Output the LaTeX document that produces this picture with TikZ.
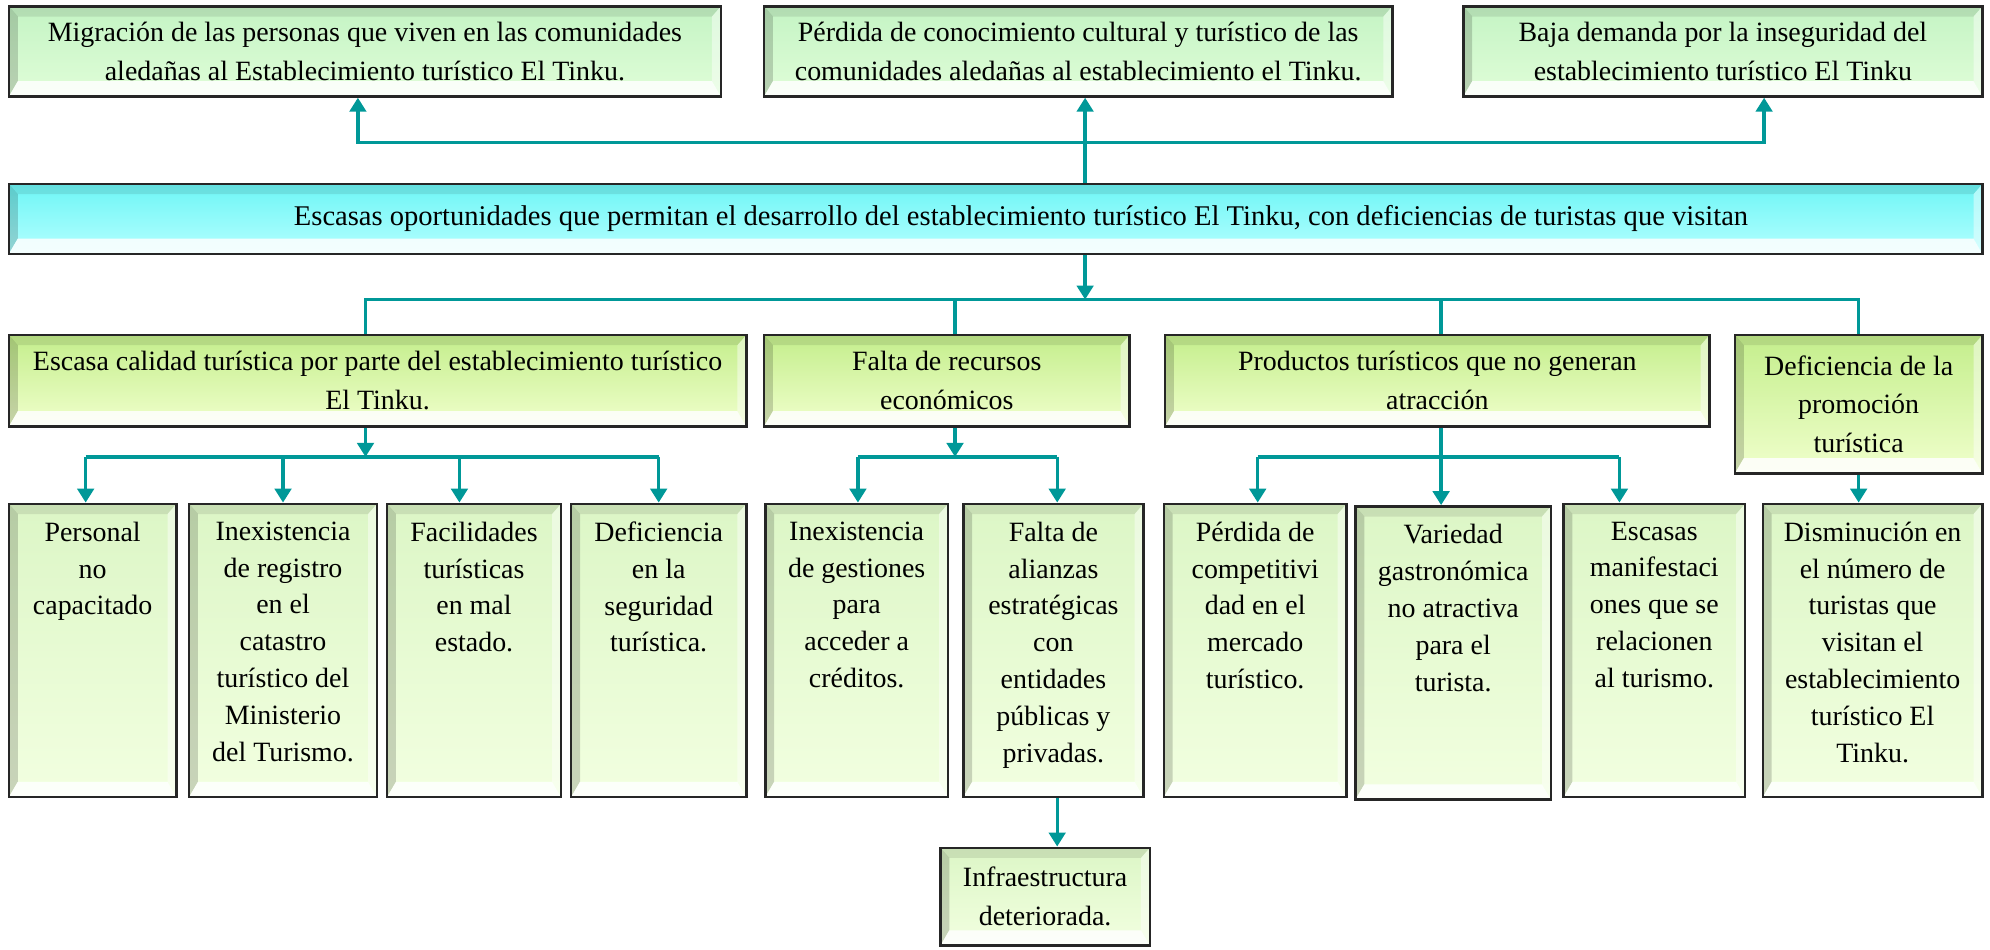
\documentclass[tikz,border=0pt]{standalone}
\usepackage{fontspec}
\setmainfont{Liberation Serif}
\usetikzlibrary{arrows.meta,calc}
\definecolor{tealc}{RGB}{0,152,152}
\definecolor{mintT}{RGB}{196,244,196}
\definecolor{mintB}{RGB}{224,253,216}
\definecolor{cyanT}{RGB}{110,246,246}
\definecolor{cyanB}{RGB}{180,255,255}
\definecolor{limeT}{RGB}{196,238,140}
\definecolor{limeM}{RGB}{216,251,158}
\definecolor{limeB}{RGB}{240,255,204}
\definecolor{paleT}{RGB}{220,246,198}
\definecolor{paleB}{RGB}{242,255,224}
\tikzset{
  bevel/.style={path picture={
    \coordinate (bSW) at (path picture bounding box.south west);
    \coordinate (bNE) at (path picture bounding box.north east);
    \coordinate (bNW) at (bSW|-bNE);
    \coordinate (bSE) at (bNE|-bSW);
    \coordinate (iSW) at ([shift={(7pt,12pt)}]bSW);
    \coordinate (iNE) at ([shift={(-7pt,-8pt)}]bNE);
    \coordinate (iNW) at (iSW|-iNE);
    \coordinate (iSE) at (iNE|-iSW);
    \fill[black,opacity=0.09] (bNW)--(bNE)--(iNE)--(iNW)--cycle;
    \fill[black,opacity=0.17] (bSW)--(bNW)--(iNW)--(iSW)--cycle;
    \fill[white,opacity=0.85] (bSW)--(bSE)--(iSE)--(iSW)--cycle;
    \fill[white,opacity=0.45] (bSE)--(bNE)--(iNE)--(iSE)--cycle;
  }},
  bx/.style={rectangle, draw=black!85, line width=2pt, inner sep=0pt, align=center,
    font=\fontsize{22}{30.5}\selectfont, bevel},
  mintbox/.style={bx, top color=mintT, bottom color=mintB},
  cyanbox/.style={bx, top color=cyanT, bottom color=cyanB},
  limebox/.style={bx, top color=limeT, middle color=limeM, bottom color=limeB},
  palebox/.style={bx, top color=paleT, bottom color=paleB},
  txt/.style={inner sep=0pt, align=center, font=\fontsize{22}{29}\selectfont},
  conn/.style={draw=tealc, line width=2.6pt},
  arr/.style={conn, -{Triangle[width=13pt,length=11pt]}},
}
\newcommand\cbox[7]{\node[#1, minimum width={#5-#3}, minimum height={#6-#4}] (#2) at ({(#3+#5)/2},{(#4+#6)/2}) {#7};}
\newcommand\tbox[6]{\node[palebox, minimum width={#4-#2}, minimum height={#5-#3}] (#1) at ({(#2+#4)/2},{(#3+#5)/2}) {};
  \node[txt, anchor=north] (#1t) at ([yshift=-15pt]#1.north) {#6};}
\begin{document}
\begin{tikzpicture}[x=1pt,y=-1pt]
\useasboundingbox (0,0) rectangle (1568,748);
% top effects
\cbox{mintbox}{T1}{7}{5}{568}{76}{Migración de las personas que viven en las comunidades\\aledañas al Establecimiento turístico El Tinku.}
\cbox{mintbox}{T2}{602}{5}{1097}{76}{Pérdida de conocimiento cultural y turístico de las\\comunidades aledañas al establecimiento el Tinku.}
\cbox{mintbox}{T3}{1153}{5}{1562}{76}{Baja demanda por la inseguridad del\\establecimiento turístico El Tinku}
% central problem
\cbox{cyanbox}{C}{7}{145}{1562}{200}{\fontsize{22.5}{30}\selectfont\hspace{40pt}Escasas oportunidades que permitan el desarrollo del establecimiento turístico El Tinku, con deficiencias de turistas que visitan}
% causes
\cbox{limebox}{A}{7}{264}{588}{336}{Escasa calidad turística por parte del establecimiento turístico\\El Tinku.}
\cbox{limebox}{B}{602}{264}{890}{336}{Falta de recursos\\económicos}
\cbox{limebox}{P}{918}{264}{1347}{336}{Productos turísticos que no generan\\atracción}
\cbox{limebox}{D}{1367}{264}{1562}{373}{Deficiencia de la\\promoción\\turística}
% sub-causes
\tbox{A1}{7}{397}{139}{628}{Personal\\no\\capacitado}
\tbox{A2}{149}{397}{297}{628}{Inexistencia\\de registro\\en el\\catastro\\turístico del\\Ministerio\\del Turismo.}
\tbox{A3}{305}{397}{442}{628}{Facilidades\\turísticas\\en mal\\estado.}
\tbox{A4}{450}{397}{588}{628}{Deficiencia\\en la\\seguridad\\turística.}
\tbox{B1}{603}{397}{747}{628}{Inexistencia\\de gestiones\\para\\acceder a\\créditos.}
\tbox{B2}{759}{397}{901}{628}{Falta de\\alianzas\\estratégicas\\con\\entidades\\públicas y\\privadas.}
\cbox{palebox}{B3}{741}{668}{906}{745}{\fontsize{22}{29}\selectfont Infraestructura\\deteriorada.}
\tbox{C1}{917}{397}{1061}{628}{Pérdida de\\competitivi\\dad en el\\mercado\\turístico.}
\tbox{C2}{1068}{399}{1222}{630}{Variedad\\gastronómica\\no atractiva\\para el\\turista.}
\tbox{C3}{1232}{397}{1375}{628}{Escasas\\manifestaci\\ones que se\\relacionen\\al turismo.}
\tbox{D1}{1389}{397}{1562}{628}{Disminución en\\el número de\\turistas que\\visitan el\\establecimiento\\turístico El\\Tinku.}
% connectors: effects
\coordinate (j0) at (855,112);
\coordinate (t1a) at ([xshift=-5.5pt]T1.south);
\coordinate (t3a) at ([xshift=32.5pt]T3.south);
\draw[arr] (C.north -| j0) -- (T2.south -| j0);
\draw[arr] (j0) -| (t1a);
\draw[arr] (j0) -| (t3a);
% connectors: causes
\coordinate (j1) at (855,236);
\coordinate (a0) at ([xshift=-9.5pt]A.north);
\coordinate (b0) at ([xshift=6.5pt]B.north);
\coordinate (p0) at ([xshift=3pt]P.north);
\coordinate (d0) at (D.north);
\draw[arr] (C.south -| j1) -- (j1);
\draw[conn] (a0) |- (d0 |- j1) -- (d0);
\draw[conn] (b0) -- (b0 |- j1);
\draw[conn] (p0) -- (p0 |- j1);
% under A
\coordinate (h3) at (0,360);
\coordinate (as) at ([xshift=-9.5pt]A.south);
\coordinate (a1) at ([xshift=-5.5pt]A1.north);
\coordinate (a2) at (A2.north);
\coordinate (a3) at ([xshift=-11.5pt]A3.north);
\coordinate (a4) at (A4.north);
\draw[arr] (as) -- (as |- h3);
\draw[conn] (a1 |- h3) -- (a4 |- h3);
\foreach \c in {a1,a2,a3,a4} \draw[arr] (\c |- h3) -- (\c);
% under B
\coordinate (bs) at ([xshift=6.5pt]B.south);
\coordinate (b1) at ([xshift=1pt]B1.north);
\coordinate (b2) at ([xshift=3pt]B2.north);
\coordinate (b2s) at ([xshift=3pt]B2.south);
\draw[arr] (bs) -- (bs |- h3);
\draw[conn] (b1 |- h3) -- (b2 |- h3);
\draw[arr] (b1 |- h3) -- (b1);
\draw[arr] (b2 |- h3) -- (b2);
\draw[arr] (b2s) -- (b2s |- B3.north);
% under P
\coordinate (ps) at ([xshift=3pt]P.south);
\coordinate (c1) at ([xshift=2pt]C1.north);
\coordinate (c3) at ([xshift=-27.5pt]C3.north);
\draw[arr] (ps) -- (ps |- C2.north);
\draw[conn] (c1 |- h3) -- (c3 |- h3);
\draw[arr] (c1 |- h3) -- (c1);
\draw[arr] (c3 |- h3) -- (c3);
% under D
\draw[arr] (D.south) -- (D.south |- D1.north);
\end{tikzpicture}
\end{document}
